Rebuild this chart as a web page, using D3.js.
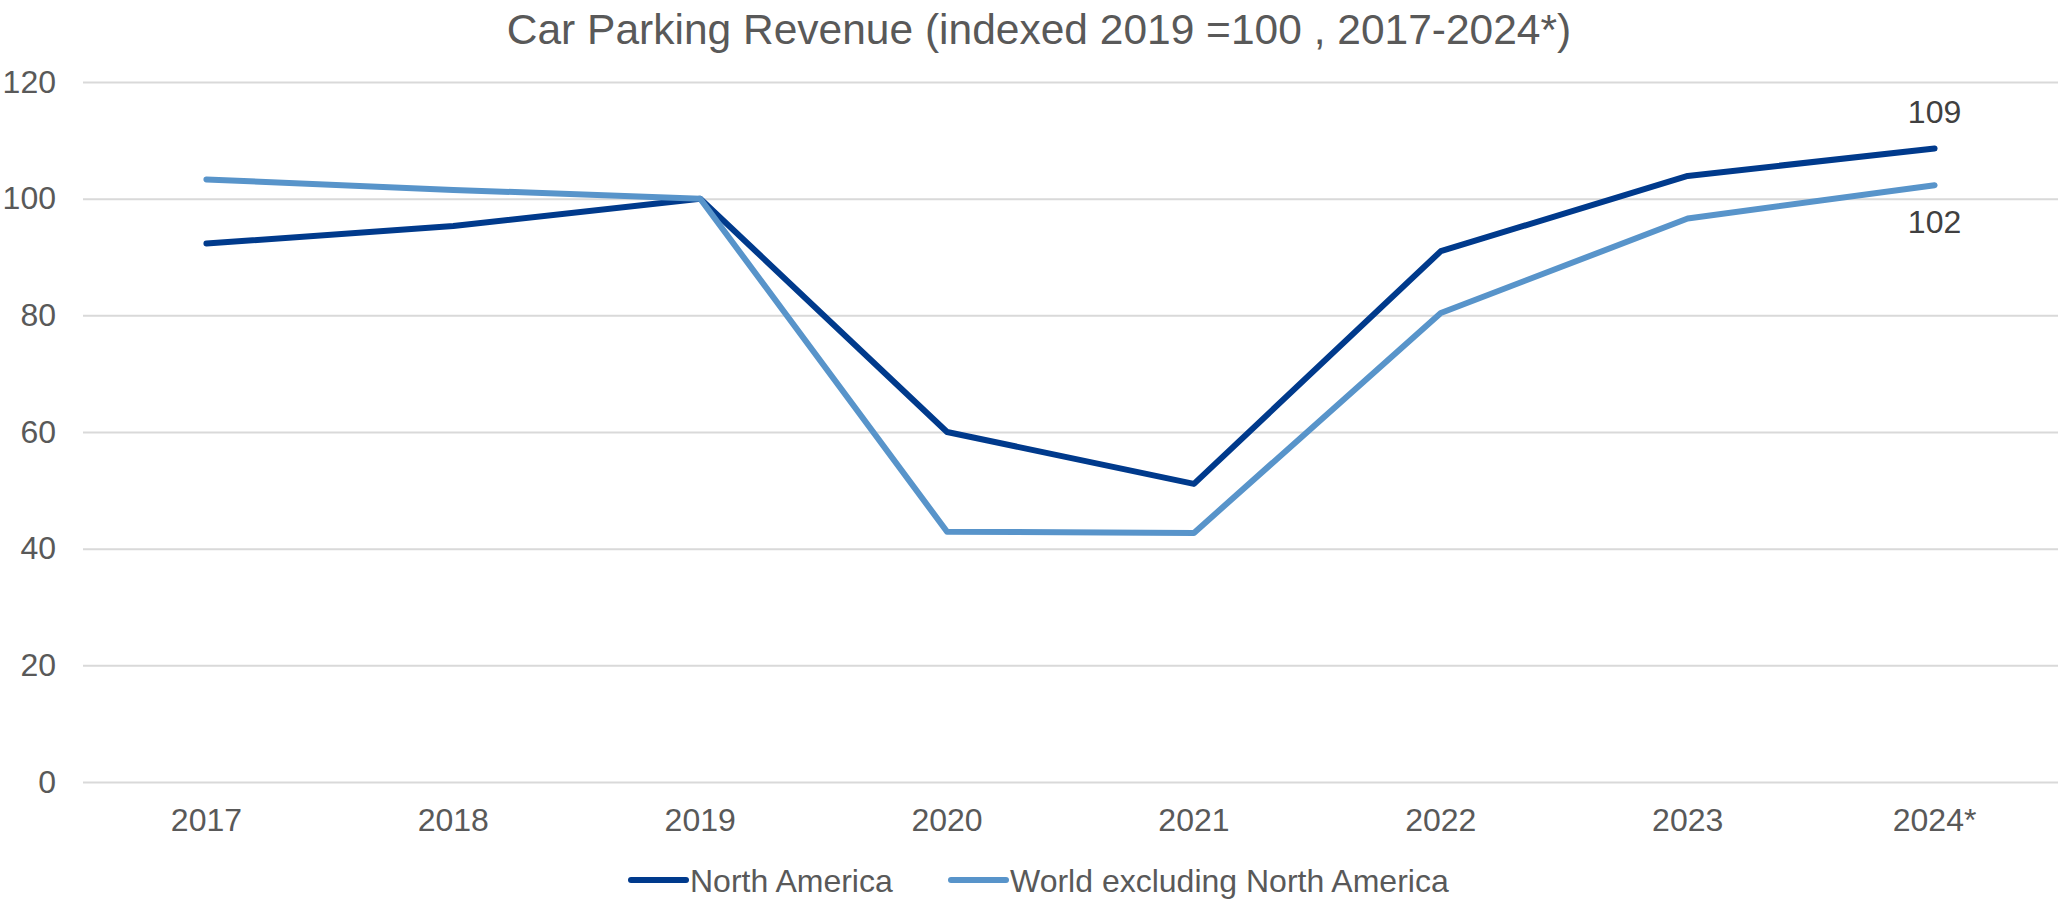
<!DOCTYPE html>
<html>
<head>
<meta charset="utf-8">
<script src="https://cdn.jsdelivr.net/npm/d3@7"></script>
<style>
  body { margin: 0; background: #fff; }
  svg { display: block; font-family: "Liberation Sans", Arial, sans-serif; }
</style>
</head>
<body>
<div id="chart"></div>
<script>
let width = 2058;
let height = 899;

// data
const years = ["2017", "2018", "2019", "2020", "2021", "2022", "2023", "2024*"];
const northAmerica = [92.3, 95.3, 100, 60.0, 51.1, 91.0, 103.9, 108.6];
const worldExNA = [103.3, 101.5, 100, 42.9, 42.7, 80.4, 96.6, 102.3];
const yTicks = [0, 20, 40, 60, 80, 100, 120];
const seriesNames = ["North America", "World excluding North America"];
const seriesColors = ["#003a8c", "#5894ca"];

let svg = d3.select("#chart")
            .append("svg")
            .attr("width", width)
            .attr("height", height)
            .attr("viewBox", `0 0 ${width} ${height}`);

let x = d3.scaleBand().domain(years).range([83, 2058]);
let y = d3.scaleLinear().domain([0, 120]).range([782, 82]);

// title
svg.append("text")
  .attr("x", 1039)
  .attr("y", 44)
  .attr("text-anchor", "middle")
  .attr("fill", "#595959")
  .attr("font-size", 42.5)
  .text("Car Parking Revenue (indexed 2019 =100 , 2017-2024*)");

// gridlines + y labels
let yAxis = svg.append("g")
  .attr("transform", "translate(83,0)")
  .call(d3.axisLeft(y).tickValues(yTicks).tickSize(-(2058 - 83)).tickPadding(27));
yAxis.select(".domain").remove();
yAxis.selectAll(".tick line").attr("stroke", "#d9d9d9").attr("stroke-width", 2);
yAxis.selectAll(".tick text")
  .attr("fill", "#595959")
  .attr("font-size", 32)
  .attr("font-family", "Liberation Sans, Arial, sans-serif");

// x labels
let xAxis = svg.append("g")
  .attr("transform", "translate(0,782)")
  .call(d3.axisBottom(x).tickSize(0).tickPadding(26));
xAxis.select(".domain").remove();
xAxis.selectAll(".tick text")
  .attr("fill", "#595959")
  .attr("font-size", 32)
  .attr("font-family", "Liberation Sans, Arial, sans-serif");

// lines
let line = d3.line()
  .x((d, i) => x(years[i]) + x.bandwidth() / 2)
  .y(d => y(d));

[northAmerica, worldExNA].forEach((s, k) => {
  svg.append("path")
    .datum(s)
    .attr("fill", "none")
    .attr("stroke", seriesColors[k])
    .attr("stroke-width", 6)
    .attr("stroke-linejoin", "round")
    .attr("stroke-linecap", "round")
    .attr("d", line);
});

// end labels
let last = years.length - 1;
let lx = x(years[last]) + x.bandwidth() / 2;
svg.append("text")
  .attr("x", lx)
  .attr("y", y(northAmerica[last]) - 26)
  .attr("text-anchor", "middle")
  .attr("fill", "#404040")
  .attr("font-size", 32)
  .text(Math.round(northAmerica[last]));
svg.append("text")
  .attr("x", lx)
  .attr("y", y(worldExNA[last]) + 48)
  .attr("text-anchor", "middle")
  .attr("fill", "#404040")
  .attr("font-size", 32)
  .text(Math.round(worldExNA[last]));

// legend
let legendX = [631, 951];
seriesNames.forEach((name, k) => {
  let g = svg.append("g").attr("transform", `translate(${legendX[k]},880)`);
  g.append("line")
    .attr("x1", 0).attr("x2", 55)
    .attr("stroke", seriesColors[k])
    .attr("stroke-width", 6)
    .attr("stroke-linecap", "round");
  g.append("text")
    .attr("x", 59)
    .attr("y", 12)
    .attr("fill", "#595959")
    .attr("font-size", 32)
    .text(name);
});
</script>
</body>
</html>
